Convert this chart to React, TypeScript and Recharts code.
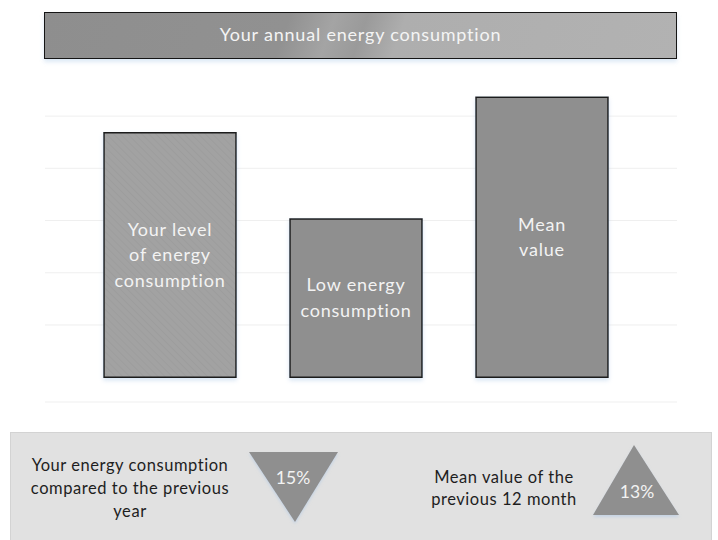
import { Bar, BarChart, CartesianGrid, Cell, LabelList, XAxis, YAxis } from 'recharts';

// chart content
const TITLE = 'Your annual energy consumption';
const CATEGORIES = ['Your level of energy consumption', 'Low energy consumption', 'Mean value'];
const BAR_LINES = [
  ['Your level', 'of energy', 'consumption'],
  ['Low energy', 'consumption'],
  ['Mean', 'value'],
];
const VALUES = [4.68, 3.03, 5.36];
const Y_DOMAIN = [-0.475, 5.5];
const Y_TICKS = [-0.475, 1, 2, 3, 4, 5];

const CHANGE_LINES = ['Your energy consumption', 'compared to the previous', 'year'];
const CHANGE_VALUE = '15%';
const MEAN_LINES = ['Mean value of the', 'previous 12 month'];
const MEAN_VALUE = '13%';

const BAR_FILLS = ['url(#hatch)', '#8f8f8f', '#8f8f8f'];
const FONT = 'Lato, "Open Sans", sans-serif';

const chartData = CATEGORIES.map((name, i) => ({ name, value: VALUES[i] }));

function BarText(props: any) {
  const { x, y, width, height, value } = props;
  const lines = BAR_LINES[CATEGORIES.indexOf(value)] ?? [];
  const cx = x + width / 2;
  const cy = y + height / 2;
  const lh = 25.5;
  const start = cy - ((lines.length - 1) * lh) / 2;
  return (
    <text textAnchor="middle" fill="#f3f3f3" fontSize={18} fontFamily={FONT} letterSpacing={0.8}>
      {lines.map((l, i) => (
        <tspan key={i} x={cx} y={start + i * lh + 6}>{l}</tspan>
      ))}
    </text>
  );
}

export default function App() {
  return (
    <div style={{ position: 'relative', width: 718, height: 540, overflow: 'hidden', background: '#fff', fontFamily: FONT }}>
      <style>{'body{margin:0}'}</style>

      <div
        style={{
          position: 'absolute', left: 44, top: 12, width: 633, height: 47, boxSizing: 'border-box',
          border: '1.5px solid #151515', paddingBottom: 3,
          background: 'linear-gradient(110deg, #8e8e8e 0%, #919191 38%, #a4a4a4 45%, #9a9a9a 50%, #aeaeae 56%, #b2b2b2 100%)',
          boxShadow: '0 3px 4px rgba(160,195,230,0.35)',
          color: '#f4f4f4', fontSize: 18, letterSpacing: 0.8,
          display: 'flex', alignItems: 'center', justifyContent: 'center',
        }}
      >
        {TITLE}
      </div>

      <div style={{ position: 'absolute', left: 0, top: 0 }}>
        <BarChart width={718} height={420} data={chartData} margin={{ top: 90, right: 41, bottom: 18, left: 45 }}>
          <defs>
            <pattern id="hatch" patternUnits="userSpaceOnUse" width="5" height="5" patternTransform="rotate(-45)">
              <rect width="5" height="5" fill="#a2a2a2" />
              <line x1="0" y1="0" x2="0" y2="5" stroke="#999999" strokeWidth="1.2" />
            </pattern>
            <filter id="glow" x="-10%" y="-10%" width="120%" height="125%">
              <feDropShadow dx="0" dy="2.5" stdDeviation="2" floodColor="#a9c6e6" floodOpacity="0.45" />
            </filter>
          </defs>
          <CartesianGrid vertical={false} stroke="#efefef" syncWithTicks />
          <XAxis dataKey="name" hide padding={{ left: 32, right: 42 }} />
          <YAxis hide domain={Y_DOMAIN} ticks={Y_TICKS} allowDataOverflow />
          <Bar dataKey="value" barSize={132} stroke="#1c1c1c" strokeWidth={1.5} isAnimationActive={false}>
            {chartData.map((d, i) => (
              <Cell key={d.name} fill={BAR_FILLS[i]} filter="url(#glow)" />
            ))}
            <LabelList dataKey="name" content={BarText} />
          </Bar>
        </BarChart>
      </div>

      <svg width={718} height={540} style={{ position: 'absolute', left: 0, top: 0, pointerEvents: 'none' }} fontFamily={FONT}>
        <defs>
          <filter id="triGlow" x="-10%" y="-10%" width="120%" height="125%">
            <feDropShadow dx="0" dy="2" stdDeviation="1.5" floodColor="#a9c6e6" floodOpacity="0.5" />
          </filter>
        </defs>
        <rect x={10.5} y={432.5} width={701} height={120} fill="#e1e1e1" stroke="#d3d3d3" />
        <text textAnchor="middle" fill="#1e1e1e" fontSize={16.5} letterSpacing={0.55}>
          {CHANGE_LINES.map((l, i) => (
            <tspan key={i} x={130} y={471 + i * 23}>{l}</tspan>
          ))}
        </text>
        <polygon points="249,452 338,452 295,522" fill="#8f8f8f" filter="url(#triGlow)" />
        <text x={293} y={484} textAnchor="middle" fill="#f3f3f3" fontSize={17.5}>{CHANGE_VALUE}</text>

        <text textAnchor="middle" fill="#1e1e1e" fontSize={16.5} letterSpacing={0.55}>
          {MEAN_LINES.map((l, i) => (
            <tspan key={i} x={504} y={483 + i * 22}>{l}</tspan>
          ))}
        </text>
        <polygon points="634,445 679,515 593,515" fill="#8f8f8f" filter="url(#triGlow)" />
        <text x={637} y={498} textAnchor="middle" fill="#f3f3f3" fontSize={17.5}>{MEAN_VALUE}</text>
      </svg>
    </div>
  );
}
